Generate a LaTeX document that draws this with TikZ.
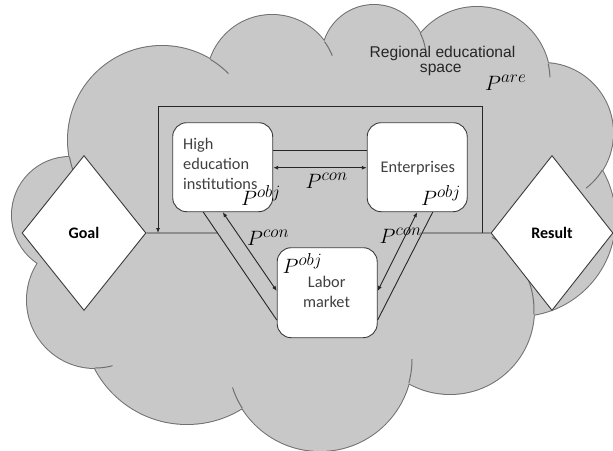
\documentclass[tikz,border=0pt]{standalone}
\usepackage[no-math]{fontspec}
\setmainfont{Carlito}
\newfontfamily\arialfont{Liberation Sans}
\usetikzlibrary{shapes.geometric,arrows.meta,calc}
\DeclareMathSizes{22.5}{22.5}{17}{13}

\definecolor{cloudfill}{RGB}{200,200,200}
\definecolor{cloudedge}{RGB}{112,112,112}
\definecolor{boxedge}{RGB}{60,60,60}
\definecolor{linkcol}{RGB}{38,38,38}
\definecolor{boxtext}{RGB}{64,64,64}

\tikzset{
  unitbox/.style={draw=boxedge, fill=white, line width=0.9pt, rounded corners=14pt,
    minimum width=100pt, minimum height=89pt, inner sep=0pt},
  gate/.style={diamond, draw=boxedge, fill=white, line width=0.9pt,
    minimum width=124pt, minimum height=155pt, inner sep=0pt,
    font=\bfseries\fontsize{16}{20}\selectfont, text=black},
  bodytxt/.style={font=\fontsize{16.3}{20}\selectfont, text=boxtext, inner sep=0pt},
  areatxt/.style={font=\arialfont\fontsize{15.6}{18}\selectfont, text=linkcol, inner sep=0pt},
  param/.style={font=\fontsize{22.5}{26}\selectfont, text=black, inner sep=0pt, anchor=base west},
  link/.style={draw=linkcol, line width=0.9pt},
  twoway/.style={link, {Latex[length=5pt,width=4pt]}-{Latex[length=5pt,width=4pt]}},
  oneway/.style={link, -{Latex[length=5pt,width=4pt]}},
  cloudrim/.style={draw=cloudedge, line width=2pt},
  cloudtail/.style={draw=cloudedge, line width=1pt}
}

\begin{document}
\begin{tikzpicture}[x=1pt,y=-1pt]
\useasboundingbox (0,0) rectangle (613,450);
\clip (0,0) rectangle (613,450);

% ---- cloud: bumps are circles; draw rims first, then fill over them
\def\bumps{70/215/58, 162/140/94, 272/80/65, 374/57/52, 477/80/73,
  543/133/70, 518/219/97, 450/310/84, 320/359/92, 187/320/104, 95/300/68}
\foreach \cx/\cy/\r in \bumps \draw[cloudrim] (\cx,\cy) circle[radius=\r];
\fill[cloudfill] (70,215) -- (162,140) -- (272,80) -- (374,57) -- (477,80)
  -- (543,133) -- (518,219) -- (450,310) -- (320,359) -- (187,320) -- (95,300) -- cycle;
\foreach \cx/\cy/\r in \bumps \fill[cloudfill] (\cx,\cy) circle[radius=\r];
% short inner arcs at the notches
\foreach \cx/\cy/\r/\a/\b in {162/140/94/160/169.5, 162/140/94/-59/-45,
  272/80/65/-36/-22, 374/57/52/-27/-8, 477/80/73/-13/-2, 543/133/70/32/52,
  450/310/84/-60/3, 320/359/92/0/15, 320/359/92/147.7/162, 95/300/68/75/90}
  \draw[cloudtail] plot[domain=\a:\b, samples=16, smooth]
    ({\cx+\r*cos(\x)},{\cy+\r*sin(\x)});

% ---- area caption
\node[areatxt, anchor=base] (area1) at (442.5,57.3) {Regional educational};
\node[areatxt, anchor=base] (area2) at (440.8,72.3) {space};
\node[param] (pare) at (485,90) {$P^{are}$};

% ---- goal and result
\node[gate] (goal) at (84,233) {Goal};
\node[gate, minimum width=122pt] (result) at (552,233) {Result};

% ---- participants
\node[unitbox] (hei) at (222.7,167.2) {};
\node[unitbox] (ent) at (417.2,167.2) {};
\node[unitbox, minimum height=90pt] (lm) at (327.2,292.7) {};

\node[bodytxt, anchor=base west] (hei1) at (183,149.3) {High};
\node[bodytxt, anchor=base west] (hei2) at (183,169.5) {education};
\node[bodytxt, anchor=base west] (hei3) at (183,189.3) {institutions};
\node[bodytxt, anchor=base] (ent1) at (417.8,172.3) {Enterprises};
\node[bodytxt, anchor=base] (lm1) at (326.7,287.7) {Labor};
\node[bodytxt, anchor=base] (lm2) at (326.5,307.3) {market};

% ---- feedback frame
\coordinate (frameR) at (482,106);
\coordinate (frameL) at (158,106);
\draw[oneway] (frameR |- result.west) -- (frameR) -- (frameL) -- (frameL |- goal.west);

% ---- links between participants
\draw[link] ([yshift=16.9pt]hei.east) -- ([yshift=16.9pt]ent.west);
\draw[twoway] ([yshift=-0.5pt]hei.east) -- ([yshift=-0.5pt]ent.west);

\coordinate (hl) at ([xshift=-19.4pt]hei.south);
\coordinate (ll) at ([yshift=-27.3pt]lm.west);
\coordinate (er) at ([xshift=15.5pt]ent.south);
\coordinate (lr) at ([yshift=-27.3pt]lm.east);
\draw[link] (hl) -- (ll);
\draw[link] (er) -- (lr);
\draw[twoway] (hei.south) -- ([yshift=1.7pt]lm.west);
\draw[twoway] (ent.south) -- ([yshift=1.7pt]lm.east);

% ---- main line from goal to result
\coordinate (jl) at (intersection of goal.east--result.west and hl--ll);
\coordinate (jr) at (intersection of goal.east--result.west and er--lr);
\draw[link] (goal.east) -- (jl);
\draw[link] (jr) -- (result.west);

% ---- parameters
\node[param] (pobj1) at (241,205.5) {$P^{obj}$};
\node[param] (pobj2) at (421,205.5) {$P^{obj}$};
\node[param] (pobj3) at (282.5,273) {$P^{obj}$};
\node[param] (pcon1) at (305.5,188.5) {$P^{con}$};
\node[param] (pcon2) at (247,245) {$P^{con}$};
\node[param] (pcon3) at (379.5,243) {$P^{con}$};
\end{tikzpicture}
\end{document}
